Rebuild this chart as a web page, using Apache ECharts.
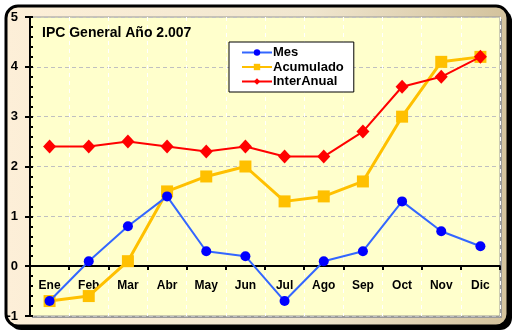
<!DOCTYPE html>
<html><head><meta charset="utf-8">
<script src="https://cdn.jsdelivr.net/npm/echarts@6/dist/echarts.min.js"></script>
<style>html,body{margin:0;padding:0;background:#fff}#c{width:516px;height:333px}</style>
</head><body><div id="c"></div>
<script>
var categories = ['Ene','Feb','Mar','Abr','May','Jun','Jul','Ago','Sep','Oct','Nov','Dic'];
var mes = [-0.7, 0.1, 0.8, 1.4, 0.3, 0.2, -0.7, 0.1, 0.3, 1.3, 0.7, 0.4];
var acumulado = [-0.7, -0.6, 0.1, 1.5, 1.8, 2.0, 1.3, 1.4, 1.7, 3.0, 4.1, 4.2];
var interAnual = [2.4, 2.4, 2.5, 2.4, 2.3, 2.4, 2.2, 2.2, 2.7, 3.6, 3.8, 4.2];
var titleText = 'IPC General Año 2.007';

var chart = echarts.init(document.getElementById('c'), null, {renderer:'canvas'});
var font = 'Liberation Sans, Arial, sans-serif';
chart.setOption({
  animation:false,
  backgroundColor:'#ffffff',
  graphic:[
    {type:'rect', z:-10, silent:true, shape:{x:9,y:9,width:503,height:321,r:12}, style:{fill:'#000'}},
    {type:'rect', z:-9, silent:true, shape:{x:6,y:6,width:502,height:320,r:12},
     style:{fill:new echarts.graphic.LinearGradient(0,0,1,0,[{offset:0,color:'#FDEFD8'},{offset:0.6,color:'#F0E6CF'},{offset:1,color:'#D3C29C'}]), stroke:'#000', lineWidth:3}},
    {type:'rect', z:-8, silent:true, shape:{x:32,y:19,width:470,height:299}, style:{fill:'#9a9a9a'}}
  ],
  title:{text:titleText, left:42, top:26, padding:0, textStyle:{fontFamily:font, fontSize:14, fontWeight:'bold', color:'#000'}},
  legend:{
    orient:'vertical', left:229, top:42, padding:[4,10,4,12], itemGap:1.5,
    backgroundColor:'#fff', borderColor:'#000', borderWidth:1,
    itemWidth:30, itemHeight:8,
    textStyle:{fontFamily:font, fontSize:13, fontWeight:'bold', color:'#000', padding:[0,0,0,-4], lineHeight:13},
    data:['Mes','Acumulado','InterAnual']
  },
  grid:{left:30, right:16, top:17, bottom:17, outerBoundsMode:'none', show:true, backgroundColor:'#FFFFCC', borderColor:'#999', borderWidth:1},
  xAxis:{
    type:'category', data:categories, boundaryGap:true, position:'bottom', offset:-50,
    axisLine:{onZero:false, lineStyle:{color:'#000', width:2}},
    axisTick:{show:true, length:4, lineStyle:{color:'#000', width:2}},
    axisLabel:{margin:14, fontFamily:font, fontSize:12, fontWeight:'bold', color:'#000'},
    splitLine:{show:true, lineStyle:{color:'#ffffff', type:[4,4], width:1}}
  },
  yAxis:[{
    type:'value', min:-1, max:5, interval:1, position:'left',
    axisLine:{show:true, lineStyle:{color:'#000', width:2}},
    axisTick:{show:true, length:5, inside:false, lineStyle:{color:'#000', width:2}},
    axisLabel:{margin:12, fontFamily:font, fontSize:13, fontWeight:'bold', color:'#000'},
    splitLine:{show:true, lineStyle:{color:'#c0c0c0', type:[4,3], width:1}}
  },{
    type:'value', min:-1, max:5, interval:1, position:'left', offset:0,
    axisLine:{show:false},
    axisTick:{show:true, length:3, inside:true, lineStyle:{color:'#000', width:2}},
    minorTick:{show:true, splitNumber:5, length:3, lineStyle:{color:'#000', width:2}},
    axisLabel:{show:false},
    splitLine:{show:false}
  }],
  series:[
    {name:'Mes', type:'line', data:mes, symbol:'circle', symbolSize:10, z:4,
     lineStyle:{color:'#3366FF', width:2}, itemStyle:{color:'#0000FF'}},
    {name:'Acumulado', type:'line', data:acumulado, symbol:'rect', symbolSize:12, z:3,
     lineStyle:{color:'#FFC000', width:3}, itemStyle:{color:'#FFC000'}},
    {name:'InterAnual', type:'line', data:interAnual, symbol:'diamond', symbolSize:[13,14], z:5,
     lineStyle:{color:'#FF0000', width:2}, itemStyle:{color:'#FF0000'}}
  ]
});
</script></body></html>
